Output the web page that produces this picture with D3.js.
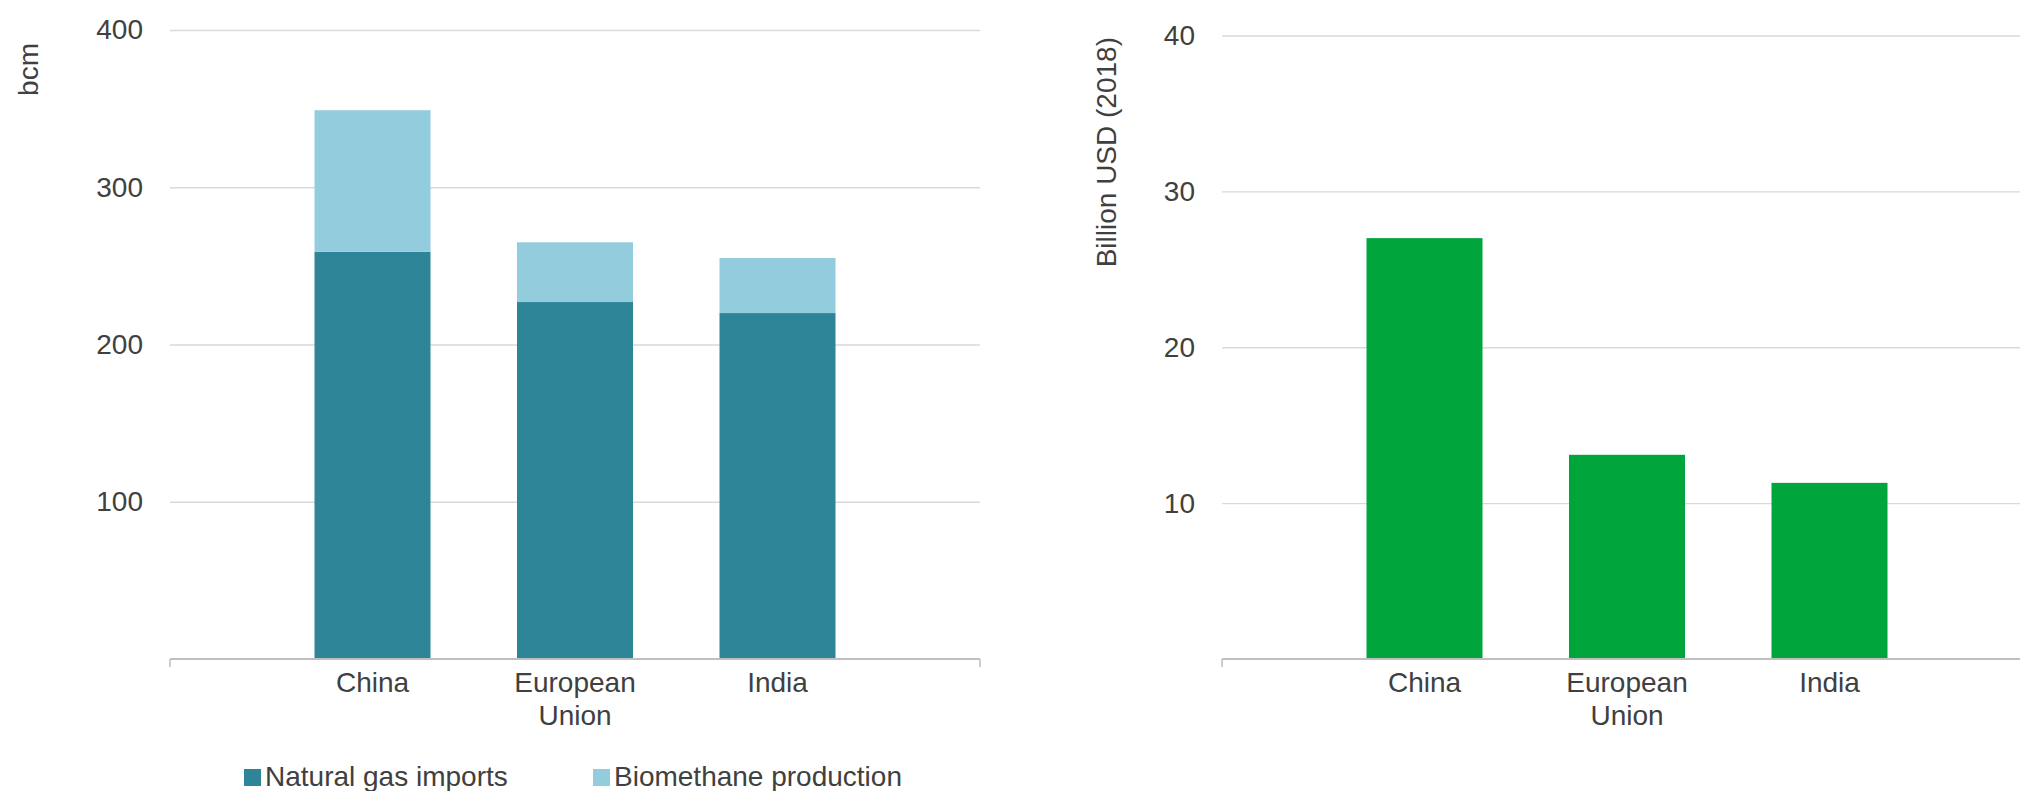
<!DOCTYPE html>
<html lang="en">
<head>
  <meta charset="UTF-8">
  <title>Gas imports vs biomethane</title>
  <script src="https://d3js.org/d3.v7.min.js"></script>
  <style>
    body { margin: 0; background: #fff; }
    svg text { font-family: "Liberation Sans", Arial, sans-serif; fill: #404040; }
  </style>
</head>
<body>
<div id="chart"></div>
<script>
  // Data
  const categories = ['China', 'European Union', 'India'];
  const gasImports = [259, 227, 220];      // bcm
  const biomethane = [90, 38, 35];         // bcm
  const costs = [27, 13.1, 11.3];          // billion USD (2018)
  const leftTicks = [100, 200, 300, 400];
  const rightTicks = [10, 20, 30, 40];
  const seriesNames = ['Natural gas imports', 'Biomethane production'];

  const W = 2020, H = 791;
  const fontSize = 28;
  const colDark = '#2e8598', colLight = '#93cddd', colGreen = '#00a63c';

  const svg = d3.select('#chart').append('svg')
    .attr('width', W)
    .attr('height', H);

  const y0 = 659;      // baseline
  const barW = 116;

  // draws axes, gridlines and category labels for one panel
  function panel(x0, x1, yMax, yTop, ticks) {
    const x = d3.scalePoint().domain(categories).range([x0, x1]).padding(1);
    const y = d3.scaleLinear().domain([0, yMax]).range([y0, yTop]);

    // gridlines
    svg.append('g')
      .attr('transform', `translate(${x0},0)`)
      .call(d3.axisLeft(y).tickValues(ticks).tickSize(-(x1 - x0)).tickFormat(''))
      .call(g => g.select('.domain').remove())
      .call(g => g.selectAll('line').attr('stroke', '#d9d9d9').attr('stroke-width', 1.3));

    // y tick labels
    svg.append('g')
      .attr('transform', `translate(${x0},0)`)
      .call(d3.axisLeft(y).tickValues(ticks).tickSize(0).tickPadding(27))
      .call(g => g.select('.domain').remove())
      .call(g => g.selectAll('text')
        .attr('font-size', fontSize)
        .attr('dy', '0.32em')
        .style('font-family', '"Liberation Sans", Arial, sans-serif')
        .attr('fill', '#404040'));

    return { x, y };
  }

  function xAxis(p, x0, x1) {
    // baseline with end ticks
    svg.append('line')
      .attr('x1', x0).attr('x2', x1).attr('y1', y0).attr('y2', y0)
      .attr('stroke', '#bfbfbf').attr('stroke-width', 2);
    [x0, x1].forEach(xx => {
      svg.append('line')
        .attr('x1', xx).attr('x2', xx).attr('y1', y0).attr('y2', y0 + 8)
        .attr('stroke', '#bfbfbf').attr('stroke-width', 1.5);
    });

    // category labels, wrapped on spaces
    const lbl = svg.append('g').selectAll('text')
      .data(categories)
      .join('text')
      .attr('text-anchor', 'middle')
      .attr('font-size', fontSize)
      .attr('x', d => p.x(d))
      .attr('y', 692);
    lbl.each(function(d) {
      const t = d3.select(this);
      d.split(' ').forEach((w, i) => {
        t.append('tspan').attr('x', p.x(d)).attr('dy', i ? 33 : 0).text(w);
      });
    });
  }

  // ---- left panel: stacked bars (bcm)
  const L = panel(170, 980, 400, 30, leftTicks);

  const stackData = categories.map((c, i) => ({ cat: c, imports: gasImports[i], bio: biomethane[i] }));
  const stacked = d3.stack().keys(['imports', 'bio'])(stackData);
  const colors = [colDark, colLight];

  svg.append('g').selectAll('g')
    .data(stacked)
    .join('g')
    .attr('fill', (d, i) => colors[i])
    .selectAll('rect')
    .data(d => d)
    .join('rect')
    .attr('x', d => L.x(d.data.cat) - barW / 2)
    .attr('width', barW)
    .attr('y', d => L.y(d[1]))
    .attr('height', d => L.y(d[0]) - L.y(d[1]));

  xAxis(L, 170, 980);

  svg.append('text')
    .attr('transform', 'translate(38,43) rotate(-90)')
    .attr('text-anchor', 'end')
    .attr('font-size', fontSize)
    .text('bcm');

  // legend
  const legendX = [244, 593];
  const lg = svg.append('g').selectAll('g')
    .data(seriesNames)
    .join('g')
    .attr('transform', (d, i) => `translate(${legendX[i]},0)`);
  lg.append('rect')
    .attr('y', 769).attr('width', 17).attr('height', 17)
    .attr('fill', (d, i) => colors[i]);
  lg.append('text')
    .attr('x', 21).attr('y', 786)
    .attr('font-size', fontSize)
    .text(d => d);

  // ---- right panel: costs (billion USD)
  const R = panel(1222, 2032, 40, 35.5, rightTicks);

  svg.append('g').selectAll('rect')
    .data(costs)
    .join('rect')
    .attr('fill', colGreen)
    .attr('x', (d, i) => R.x(categories[i]) - barW / 2)
    .attr('width', barW)
    .attr('y', d => R.y(d))
    .attr('height', d => y0 - R.y(d));

  xAxis(R, 1222, 2032);

  svg.append('text')
    .attr('transform', 'translate(1116,37) rotate(-90)')
    .attr('text-anchor', 'end')
    .attr('font-size', fontSize)
    .text('Billion USD (2018)');
</script>
</body>
</html>
